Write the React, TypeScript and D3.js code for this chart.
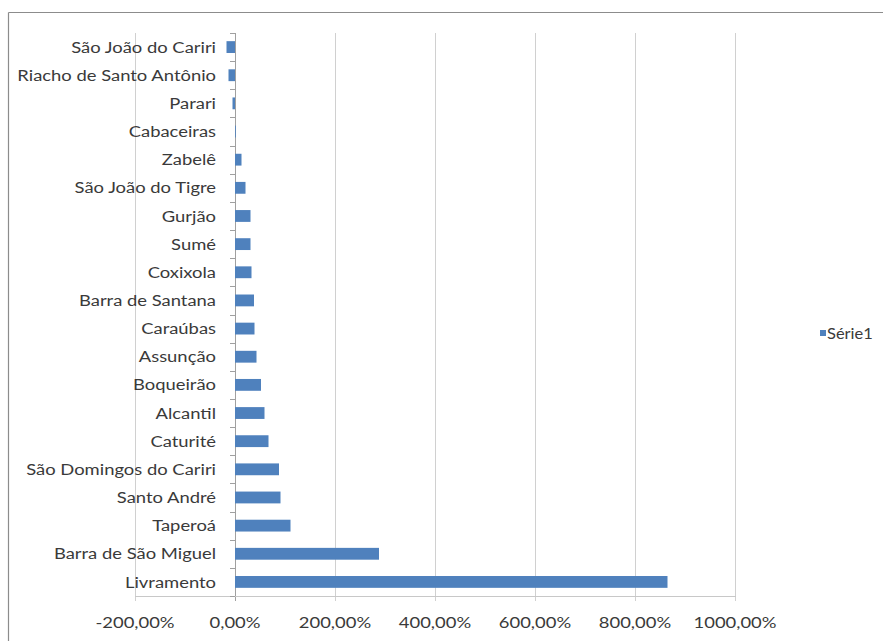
import React from "react";
import * as d3 from "d3";

const categories = [
  "São João do Cariri",
  "Riacho de Santo Antônio",
  "Parari",
  "Cabaceiras",
  "Zabelê",
  "São João do Tigre",
  "Gurjão",
  "Sumé",
  "Coxixola",
  "Barra de Santana",
  "Caraúbas",
  "Assunção",
  "Boqueirão",
  "Alcantil",
  "Caturité",
  "São Domingos do Cariri",
  "Santo André",
  "Taperoá",
  "Barra de São Miguel",
  "Livramento",
];
const serie1 = [
  -0.17, -0.13, -0.05, 0.01, 0.13, 0.21, 0.31, 0.31, 0.33, 0.38, 0.39, 0.43, 0.52,
  0.59, 0.67, 0.88, 0.91, 1.11, 2.88, 8.65,
];
const xTicks = [-2, 0, 2, 4, 6, 8, 10];
const seriesName = "Série1";

const W = 883;
const H = 641;
const plot = { left: 135, right: 735, top: 33, bottom: 596 };
const FONT = "Lato, 'Open Sans', sans-serif";
const TEXT = "#3a3a3a";

function SText(props: {
  x: number;
  y: number;
  anchor: "start" | "middle" | "end";
  sx: number;
  size: number;
  children: React.ReactNode;
}) {
  return (
    <g transform={`translate(${props.x},${props.y}) scale(${props.sx},1)`}>
      <text
        x={0}
        y={0}
        dy="0.35em"
        textAnchor={props.anchor}
        fontSize={props.size}
        fill={TEXT}
      >
        {props.children}
      </text>
    </g>
  );
}

export default function App() {
  const x = d3.scaleLinear().domain([-2, 10]).range([plot.left, plot.right]);
  const y = d3
    .scaleBand<string>()
    .domain(categories)
    .range([plot.top, plot.bottom])
    .paddingInner(0.58)
    .paddingOuter(0.29);
  const band = (plot.bottom - plot.top) / categories.length;
  const fmt = (v: number) => (v * 100).toFixed(2).replace(".", ",") + "%";
  const x0 = x(0);

  return (
    <svg
      width={W}
      height={H}
      style={{ position: "absolute", left: 0, top: 0, background: "#fff" }}
      fontFamily={FONT}
    >
      <rect x={0} y={0} width={W} height={H} fill="#fff" />
      {/* chart frame */}
      <line x1={8.5} y1={12.5} x2={W} y2={12.5} stroke="#8c8c8c" strokeWidth={1.2} />
      <line x1={8.5} y1={12.5} x2={8.5} y2={H} stroke="#8c8c8c" strokeWidth={1.2} />

      {/* gridlines */}
      {xTicks.map((t) => (
        <line
          key={"g" + t}
          x1={Math.round(x(t)) + 0.5}
          x2={Math.round(x(t)) + 0.5}
          y1={plot.top}
          y2={plot.bottom + 5}
          stroke={t === 0 ? "#a0a0a0" : "#d0d0d0"}
          strokeWidth={1}
        />
      ))}
      {/* bottom axis line */}
      <line
        x1={plot.left}
        x2={plot.right + 1}
        y1={plot.bottom + 0.5}
        y2={plot.bottom + 0.5}
        stroke="#c8c8c8"
      />
      {/* category tick marks */}
      {d3.range(categories.length + 1).map((i) => (
        <line
          key={"ct" + i}
          x1={x0 - 5}
          x2={x0}
          y1={Math.round(plot.top + i * band) + 0.5}
          y2={Math.round(plot.top + i * band) + 0.5}
          stroke="#a0a0a0"
        />
      ))}

      {/* bars */}
      {categories.map((c, i) => {
        const v = serie1[i];
        const a = x(Math.min(0, v));
        const b = x(Math.max(0, v));
        return (
          <rect
            key={c}
            x={a}
            y={y(c)!}
            width={Math.max(b - a, 0.8)}
            height={y.bandwidth()}
            fill="#4f81bd"
          />
        );
      })}

      {/* category labels */}
      {categories.map((c) => (
        <SText
          key={"l" + c}
          x={216}
          y={y(c)! + y.bandwidth() / 2}
          anchor="end"
          sx={1.15}
          size={16}
        >
          {c}
        </SText>
      ))}

      {/* x tick labels */}
      {xTicks.map((t) => (
        <SText key={"xl" + t} x={x(t)} y={622} anchor="middle" sx={1.15} size={16}>
          {fmt(t)}
        </SText>
      ))}

      {/* legend */}
      <rect x={820} y={330} width={6} height={6} fill="#4f81bd" />
      <SText x={827} y={333} anchor="start" sx={1.03} size={16}>
        {seriesName}
      </SText>
    </svg>
  );
}
